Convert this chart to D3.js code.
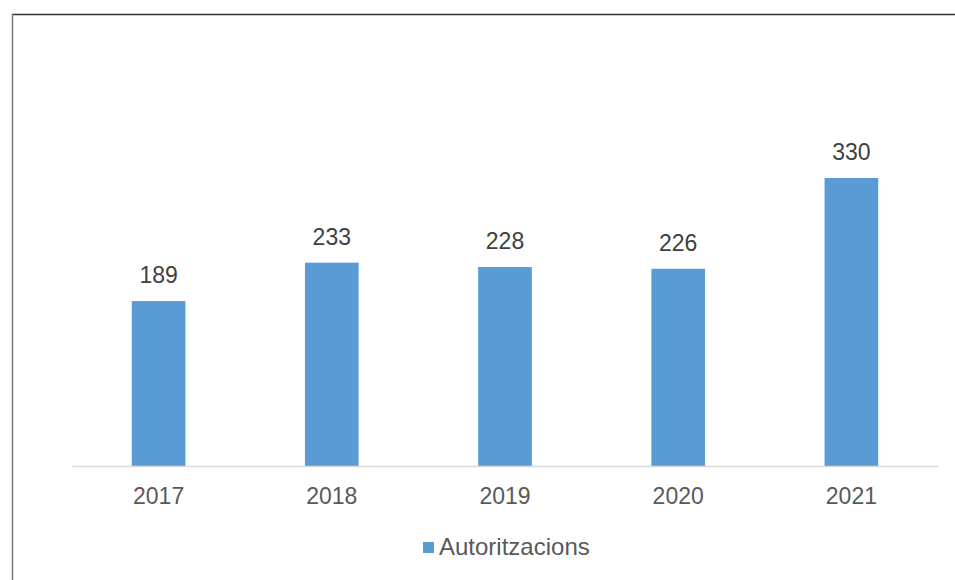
<!DOCTYPE html>
<html><head><meta charset="utf-8">
<script src="https://cdn.jsdelivr.net/npm/d3@7"></script>
<style>body{margin:0;background:#fff}svg{display:block}</style>
</head><body>
<svg id="c" width="955" height="580"></svg>
<script>
const categories = ["2017","2018","2019","2020","2021"];
const values = [189,233,228,226,330];
const seriesName = "Autoritzacions";

const svg = d3.select("#c");
const W = 955, H = 580;
const FONT = "'Liberation Sans',Arial,sans-serif";
svg.append("rect").attr("width",W).attr("height",H).attr("fill","#fff");
// frame
svg.append("line").attr("x1",12).attr("x2",W).attr("y1",14.5).attr("y2",14.5).attr("stroke","#333").attr("stroke-width",1.5);
svg.append("line").attr("x1",12.5).attr("x2",12.5).attr("y1",14).attr("y2",H).attr("stroke","#777").attr("stroke-width",1.5);

const x = d3.scaleBand().domain(categories).range([72,938]).paddingInner(0.69).paddingOuter(0.345);
const y = d3.scaleLinear().domain([0,330]).range([466,178]);

svg.selectAll("rect.bar").data(values).enter().append("rect").attr("class","bar")
  .attr("x",(d,i)=>x(categories[i])).attr("width",x.bandwidth())
  .attr("y",d=>y(d)).attr("height",d=>y(0)-y(d)).attr("fill","#5B9BD5");

const ax = svg.append("g").attr("transform","translate(0,466)")
  .call(d3.axisBottom(x).tickSize(0).tickPadding(0));
ax.select(".domain").attr("stroke","#d9d9d9").attr("stroke-width",1.5);
ax.selectAll("text").attr("dy",null).attr("y",38)
  .attr("font-family",FONT).attr("font-size",23).attr("fill","#595959");

svg.selectAll("text.val").data(values).enter().append("text").attr("class","val")
  .attr("x",(d,i)=>x(categories[i])+x.bandwidth()/2).attr("y",d=>y(d)-18)
  .attr("text-anchor","middle").attr("font-family",FONT)
  .attr("font-size",23).attr("fill","#404040").text(d=>d);

const lg = svg.append("g");
lg.append("rect").attr("x",423).attr("y",542).attr("width",11).attr("height",11).attr("fill","#5B9BD5");
lg.append("text").attr("x",439).attr("y",555).attr("font-family",FONT)
  .attr("font-size",24).attr("fill","#595959").text(seriesName);
</script>
</body></html>
